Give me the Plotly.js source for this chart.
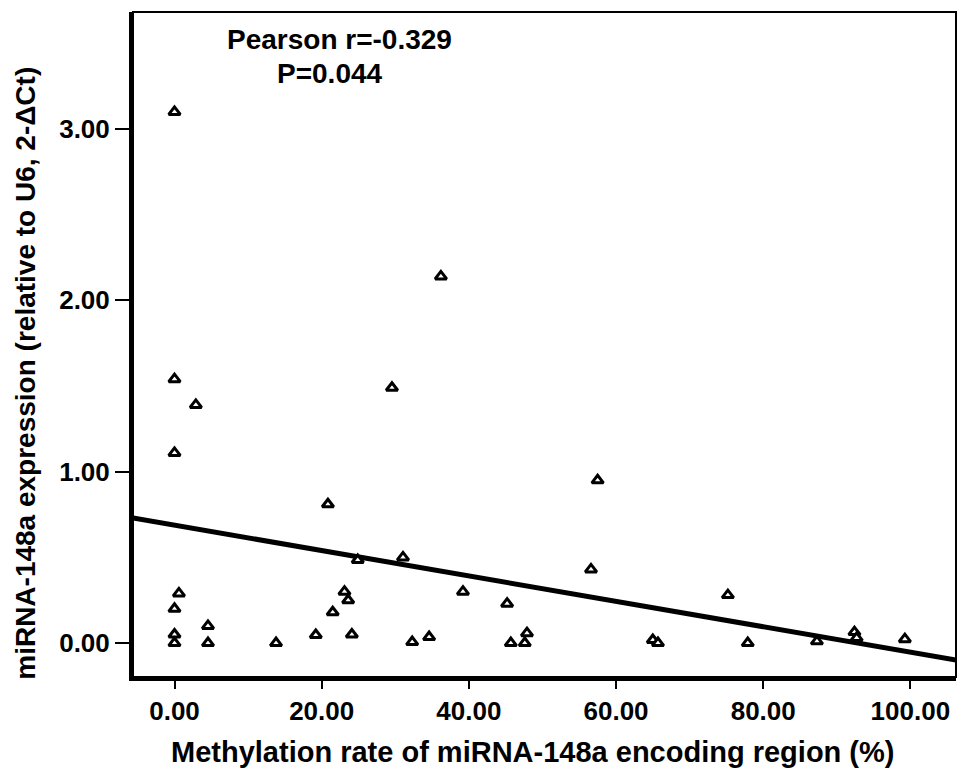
<!DOCTYPE html>
<html>
<head>
<meta charset="utf-8">
<script src="https://cdn.plot.ly/plotly-3.0.1.min.js"></script>
<style>
  html, body { margin: 0; padding: 0; background: #ffffff; }
  #chart { width: 969px; height: 783px; }
</style>
</head>
<body>
<div id="chart"></div>
<script>
// 1. Data
const methylationRate = [
  0.0, 0.0, 2.9, 0.0, 0.6, 0.0, 0.0, 0.0, 4.55, 4.55,
  13.8, 19.2, 20.85, 21.5, 23.1, 23.6, 24.1, 24.9, 29.55, 31.05,
  32.3, 34.6, 36.2, 39.2, 45.2, 45.7, 47.6, 47.9, 56.6, 57.5,
  65.0, 65.7, 75.2, 77.9, 87.3, 92.4, 92.7, 99.25,
];
const mirnaExpression = [
  3.10, 1.54, 1.39, 1.11, 0.29, 0.20, 0.05, 0.0, 0.10, 0.0,
  0.0, 0.047, 0.81, 0.18, 0.30, 0.25, 0.05, 0.485, 1.49, 0.50,
  0.006, 0.035, 2.14, 0.30, 0.23, 0.0, 0.0, 0.058, 0.43, 0.95,
  0.018, 0.0, 0.28, 0.0, 0.01, 0.064, 0.03, 0.023,
];
// regression line end points (at the edges of the x range)
const fitX = [-5.64, 106.2];
const fitY = [0.730, -0.099];

const xTicks = [0, 20, 40, 60, 80, 100];
const yTicks = [0, 1, 2, 3];

const statLines = ["Pearson r=-0.329", "P=0.044"];

// 2. Shared styles
const fontFamily = '"Liberation Sans", Arial, sans-serif';
const tickFont = { family: fontFamily, size: 26, color: "#000", weight: "bold" };
const titleFont = { family: fontFamily, size: 28, color: "#000", weight: "bold" };

// 3. Traces
const fitTrace = {
  x: fitX,
  y: fitY,
  type: "scatter",
  mode: "lines",
  line: { color: "#000", width: 5 },
  hoverinfo: "skip",
};

const pointTrace = {
  x: methylationRate,
  y: mirnaExpression,
  type: "scatter",
  mode: "markers",
  marker: {
    symbol: "triangle-up",
    size: 10,
    color: "#ffffff",
    line: { color: "#000", width: 3 },
  },
  cliponaxis: false,
};

// 4. Layout
const axisCommon = {
  showgrid: false,
  zeroline: false,
  showline: true,
  linecolor: "#000",
  linewidth: 4,
  ticks: "outside",
  ticklen: 14,
  tickwidth: 2,
  tickcolor: "#000",
  tickfont: tickFont,
  tickformat: ".2f",
  tickmode: "array",
  fixedrange: true,
};

// annotation helper (always centred on the given paper position)
function paperText(text, x, y, angle, size) {
  return {
    text: text,
    xref: "paper",
    yref: "paper",
    x: x,
    y: y,
    xanchor: "center",
    yanchor: "middle",
    textangle: angle || 0,
    showarrow: false,
    font: Object.assign({}, titleFont, { size: size || titleFont.size }),
  };
}

const layout = {
  width: 969,
  height: 783,
  margin: { l: 133, r: 13, t: 12, b: 106 },
  paper_bgcolor: "#ffffff",
  plot_bgcolor: "#ffffff",
  showlegend: false,
  xaxis: Object.assign({}, axisCommon, {
    range: [-5.64, 106.2],
    tickvals: xTicks,
    ticklen: 8,
  }),
  yaxis: Object.assign({}, axisCommon, {
    range: [-0.198, 3.683],
    tickvals: yTicks,
  }),
  shapes: [
    {
      type: "rect",
      xref: "paper",
      yref: "paper",
      x0: 0,
      x1: 1,
      y0: 0,
      y1: 1,
      line: { color: "#000", width: 2 },
    },
  ],
  annotations: [
    paperText(statLines[0], 0.2515, 0.958),
    paperText(statLines[1], 0.239, 0.907),
    paperText("Methylation rate of miRNA-148a encoding region (%)", 0.485, -0.113, 0, 29),
    paperText("miRNA-148a expression (relative to U6, 2-ΔCt)", -0.13, 0.456, -90),
  ],
};

Plotly.newPlot("chart", [fitTrace, pointTrace], layout, {
  displayModeBar: false,
  staticPlot: true,
});
</script>
</body>
</html>
